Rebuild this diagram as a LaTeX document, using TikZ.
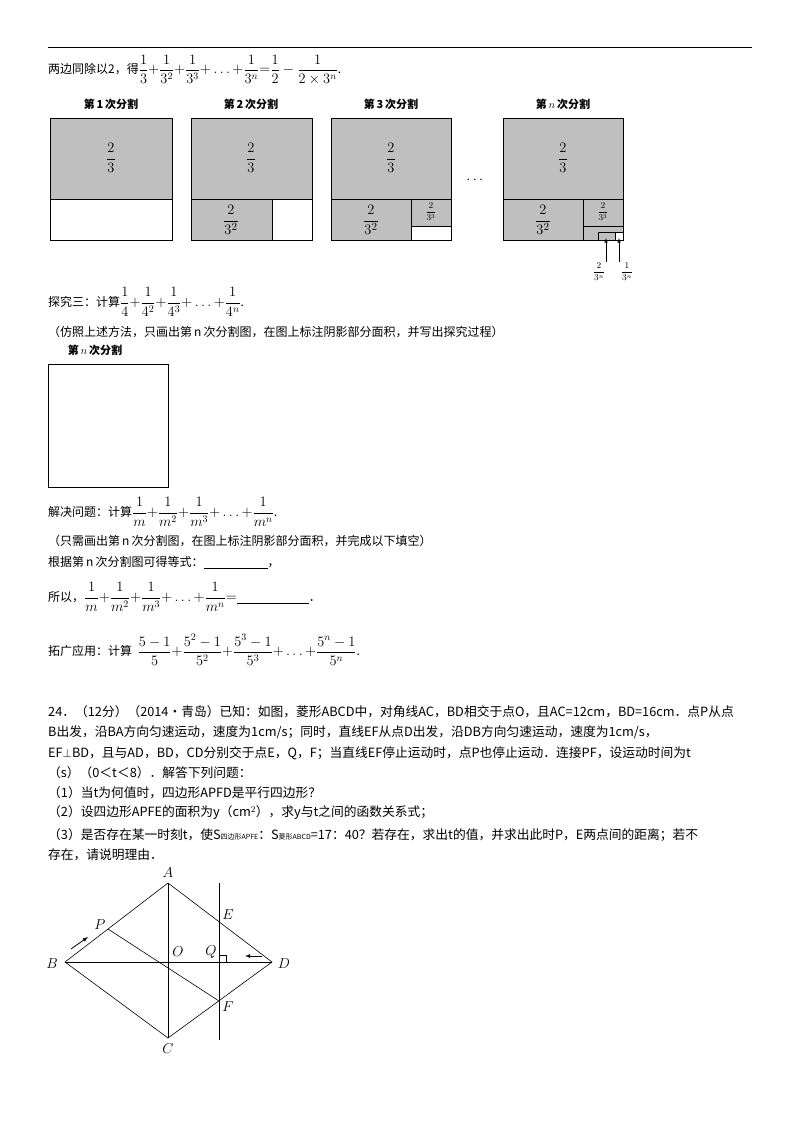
\documentclass[tikz,border=0pt]{standalone}
\usepackage{amsmath}
\usepackage{fontspec}
\setmainfont{Noto Sans CJK SC}
\newcommand{\fmath}[1]{{\fontsize{14.5}{17}\selectfont$#1$}}
\begin{document}
\begin{tikzpicture}[x=1pt,y=-1pt,
  txt/.style={anchor=west,inner sep=0pt,font=\fontsize{12}{14}\selectfont},
  ptxt/.style={anchor=west,inner sep=0pt,font=\fontsize{12.75}{15}\selectfont},
  ttl/.style={inner sep=0pt,font=\fontsize{11}{13}\selectfont\bfseries},
  fr/.style={inner sep=0pt,font=\fontsize{15}{17}\selectfont},
  sfr/.style={inner sep=0pt,font=\fontsize{9}{10}\selectfont},
  sq/.style={draw,line width=0.9pt},
  gr/.style={fill=gray!50},
  lab/.style={inner sep=1pt,font=\fontsize{14}{16}\selectfont},
  ln/.style={line width=0.6pt}]
\useasboundingbox (0,0) rectangle (800,1132);
\draw[line width=0.8pt] (48,47) -- (752,47);
\node[txt] (l1) at (48,70) {两边同除以2，得\fmath{\dfrac{1}{3}{+}\dfrac{1}{3^2}{+}\dfrac{1}{3^3}{+}\dots{+}\dfrac{1}{3^n}{=}\dfrac{1}{2}-\dfrac{1}{2\times3^n}}.};
\foreach \x/\t in {111/第\,1\,次分割,251/第\,2\,次分割,391/第\,3\,次分割,563/第\,$n$\,次分割}
  \node[ttl] at (\x,104) {\t};
% 1
\fill[gr] (50,118) rectangle (172,199);
\draw[sq] (50,118) rectangle (172,240); \draw[sq] (50,199) -- (172,199);
\node[fr] (f1) at (111,158) {$\dfrac{2}{3}$};
% 2
\fill[gr] (191,118) rectangle (312,199); \fill[gr] (191,199) rectangle (272,240);
\draw[sq] (191,118) rectangle (312,240); \draw[sq] (191,199) -- (312,199); \draw[sq] (272,199)--(272,240);
\node[fr] at (251,158) {$\dfrac{2}{3}$};
\node[fr] at (231,220) {$\dfrac{2}{3^2}$};
% 3
\fill[gr] (331,118) rectangle (451,199); \fill[gr] (331,199) rectangle (451,226);\fill[gr] (331,199) rectangle (411,240);
\draw[sq] (331,118) rectangle (451,240); \draw[sq] (331,199) -- (451,199); \draw[sq] (411,199)--(411,240);\draw[sq] (411,226)--(451,226);
\node[fr] at (391,158) {$\dfrac{2}{3}$};
\node[fr] at (371,220) {$\dfrac{2}{3^2}$};
\node[sfr] at (431,212) {$\dfrac{2}{3^3}$};
\node[fr] at (476,180) {$\cdots$};
% n
\fill[gr] (503,118) rectangle (623,240);
\fill[white] (615,232) rectangle (623,240);
\draw[sq] (503,118) rectangle (623,240); \draw[sq] (503,199) -- (623,199); \draw[sq] (583,199)--(583,240);\draw[sq] (583,226)--(623,226);
\draw[sq] (598,232) rectangle (615,240); \draw[sq] (615,232)--(623,232);
\node[fr] at (563,158) {$\dfrac{2}{3}$};
\node[fr] at (543,220) {$\dfrac{2}{3^2}$};
\node[sfr] at (603,212) {$\dfrac{2}{3^3}$};
\node[sfr] at (591,227) {$\cdots$};
\draw[-latex,line width=0.6pt] (606,262) -- (606,238);
\draw[-latex,line width=0.6pt] (619,262) -- (619,238);
\node[sfr] at (599,272) {$\dfrac{2}{3^n}$};
\node[sfr] at (627,272) {$\dfrac{1}{3^n}$};
% explore 3
\node[txt] at (48,302) {探究三：计算\fmath{\dfrac{1}{4}{+}\dfrac{1}{4^2}{+}\dfrac{1}{4^3}{+}\dots{+}\dfrac{1}{4^n}}.};
\node[txt] at (48,332) {（仿照上述方法，只画出第\,n\,次分割图，在图上标注阴影部分面积，并写出探究过程）};
\node[ttl] at (95,350) {第\,$n$\,次分割};
\draw[sq] (48,364) rectangle (168,487);
\node[txt] at (48,512) {解决问题：计算\fmath{\dfrac{1}{m}{+}\dfrac{1}{m^2}{+}\dfrac{1}{m^3}{+}\dots{+}\dfrac{1}{m^n}}.};
\node[txt] at (48,541) {（只需画出第\,n\,次分割图，在图上标注阴影部分面积，并完成以下填空）};
\node[txt] at (48,563) {根据第\,n\,次分割图可得等式：\underline{\hspace{64pt}}，};
\node[txt] at (48,597) {所以，\fmath{\dfrac{1}{m}{+}\dfrac{1}{m^2}{+}\dfrac{1}{m^3}{+}\dots{+}\dfrac{1}{m^n}{=}}\underline{\hspace{72pt}}．};
\node[txt] at (48,650) {拓广应用：计算\ \ \fmath{\dfrac{5-1}{5}{+}\dfrac{5^2-1}{5^2}{+}\dfrac{5^3-1}{5^3}{+}\dots{+}\dfrac{5^n-1}{5^n}}.};
% problem 24
\node[ptxt] at (48,712) {24．（12分）（2014•青岛）已知：如图，菱形ABCD中，对角线AC，BD相交于点O，且AC=12cm，BD=16cm．点P从点};
\node[ptxt] at (48,732) {B出发，沿BA方向匀速运动，速度为1cm/s；同时，直线EF从点D出发，沿DB方向匀速运动，速度为1cm/s，};
\node[ptxt] at (48,753) {EF$\perp$BD，且与AD，BD，CD分别交于点E，Q，F；当直线EF停止运动时，点P也停止运动．连接PF，设运动时间为t};
\node[ptxt] at (48,773) {（s）（0＜t＜8）．解答下列问题：};
\node[ptxt] at (48,793) {（1）当t为何值时，四边形APFD是平行四边形？};
\node[ptxt] at (48,813) {（2）设四边形APFE的面积为y（cm$^2$），求y与t之间的函数关系式；};
\node[ptxt] at (48,835) {（3）是否存在某一时刻t，使S{\scriptsize 四边形APFE}：S{\scriptsize 菱形ABCD}=17：40？若存在，求出t的值，并求出此时P，E两点间的距离；若不};
\node[ptxt] at (48,855) {存在，请说明理由．};
% rhombus
\coordinate (A) at (168,883); \coordinate (B) at (65,962);
\coordinate (C) at (168,1038); \coordinate (D) at (272,962);
\coordinate (E) at (219,922); \coordinate (F) at (219,1001);
\coordinate (Q) at (219,962); \coordinate (P) at (108,929);
\coordinate (T) at (219,883); \coordinate (U) at (219,1040);
\draw[ln] (A)--(B)--(C)--(D)--cycle;
\draw[ln] (A)--(C); \draw[ln] (B)--(D); \draw[ln] (P)--(F); \draw[ln] (T)--(U);
\draw[ln] (219,955) -- (226,955) -- (226,962);
\draw[-latex,line width=0.8pt] (262,956) -- (245,956);
\draw[-latex,line width=0.8pt] (71,949) -- (88,937);
\node[lab] at (168,873) {$A$};
\node[lab] at (52,964) {$B$};
\node[lab] at (168,1049) {$C$};
\node[lab] at (284,964) {$D$};
\node[lab] at (178,952) {$O$};
\node[lab] at (211,952) {$Q$};
\node[lab] at (228,915) {$E$};
\node[lab] at (228,1007) {$F$};
\node[lab] at (100,925) {$P$};
\end{tikzpicture}
\end{document}
